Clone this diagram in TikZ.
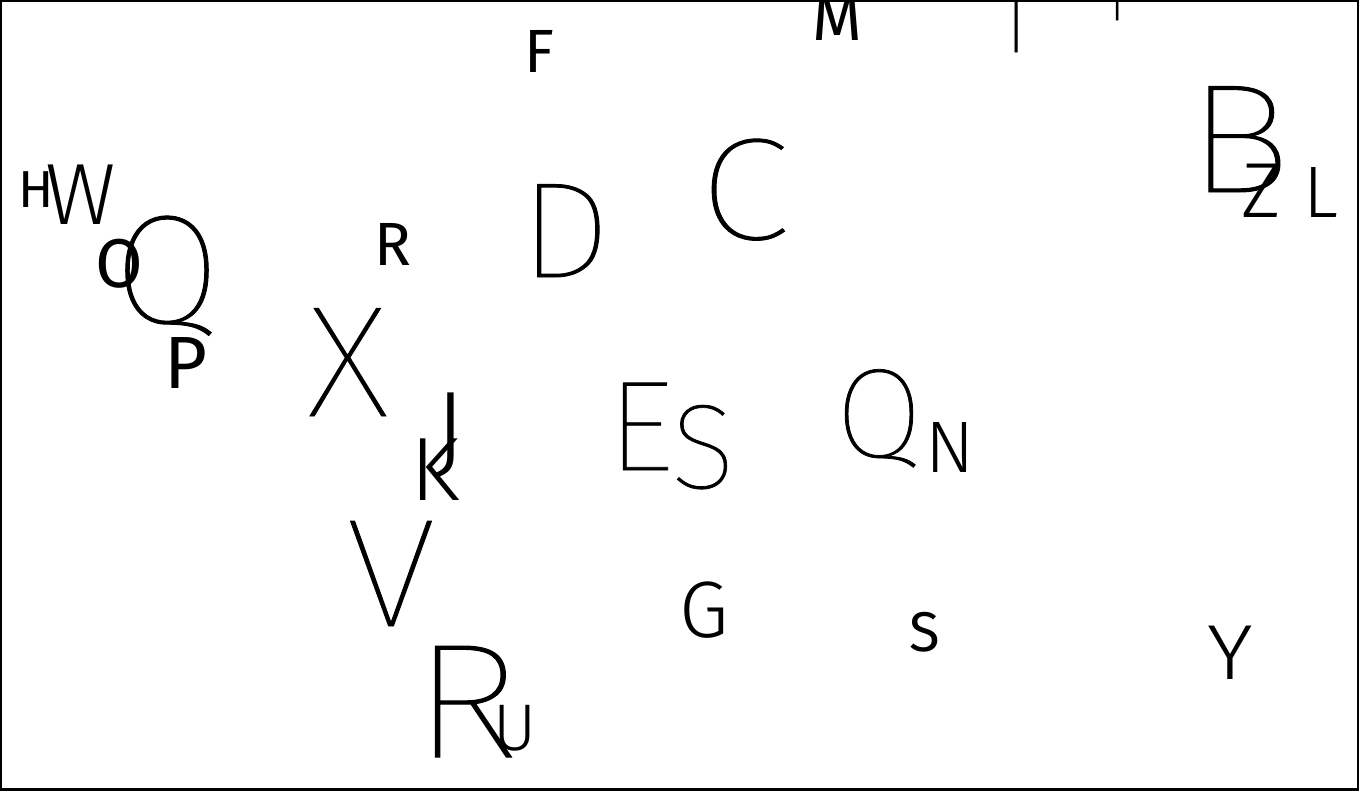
\documentclass[tikz,border=0pt]{standalone}
\usepackage{fontspec}
\newfontfamily\xlfont{Fira Sans Thin}[FakeBold=0.6]
\newfontfamily\lightfont{Fira Sans Light}
\newfontfamily\regfont{Fira Sans}
\begin{document}
\begin{tikzpicture}
        [x=1pt,y=-1pt,
        letter/.style={inner sep=0pt, anchor=base},
        xlight/.style={letter, font=\xlfont\fontsize{#1}{#1}\selectfont},
        light/.style={letter, font=\lightfont\fontsize{#1}{#1}\selectfont},
        reg/.style={letter, font=\regfont\fontsize{#1}{#1}\selectfont},
        frame/.style={line width=4pt}]
        \useasboundingbox (0,0) rectangle (1359,790);
        \draw[frame] (0,0) rectangle (1359,790);
        % top row, cut by the frame
        \node[reg=64] (m) at (837,40) {M};
        \node[xlight=100] (i-tall) at (1016,52) {I};
        \node[xlight=87] (i-short) at (1117,20) {I};
        \node[reg=61] (f) at (539,72) {F};
        % left group
        \node[reg=52] (h) at (36,207) {H};
        \node[light=87] (w) at (81,224) {W};
        \node[reg=69] (o) at (119,287) {O};
        \node[xlight=155] (q-big) at (167,323) {Q};
        \node[reg=74] (p) at (186,388) {P};
        \node[reg=61] (r-small) at (393,265) {R};
        \node[xlight=136,xscale=1.08] (d) at (565,277) {D};
        \node[xlight=145,xscale=1.15] (c) at (744,239) {C};
        % right group
        \node[xlight=155,xscale=1.14] (b) at (1239,192) {B};
        \node[light=78] (z) at (1262,217) {Z};
        \node[light=73] (l) at (1321,217) {L};
        % middle row
        \node[xlight=158,xscale=1.06] (x) at (348,416) {X};
        \node[light=106] (j) at (450,465) {J};
        \node[light=90] (k) at (435,500) {K};
        \node[xlight=128,xscale=1.06] (e) at (640,470) {E};
        \node[xlight=120] (s-big) at (703,488) {S};
        \node[xlight=127] (q-mid) at (879,457) {Q};
        \node[light=73] (n) at (950,472) {N};
        % bottom row
        \node[xlight=154,xscale=1.1] (v) at (391,626) {V};
        \node[light=80] (g) at (704,637) {G};
        \node[reg=56] (s-small) at (925,651) {S};
        \node[light=78,xscale=1.12] (y) at (1230,679) {Y};
        \node[xlight=163,xscale=1.15] (r-big) at (466,757) {R};
        \node[light=66] (u) at (515,750) {U};
\end{tikzpicture}
\end{document}
